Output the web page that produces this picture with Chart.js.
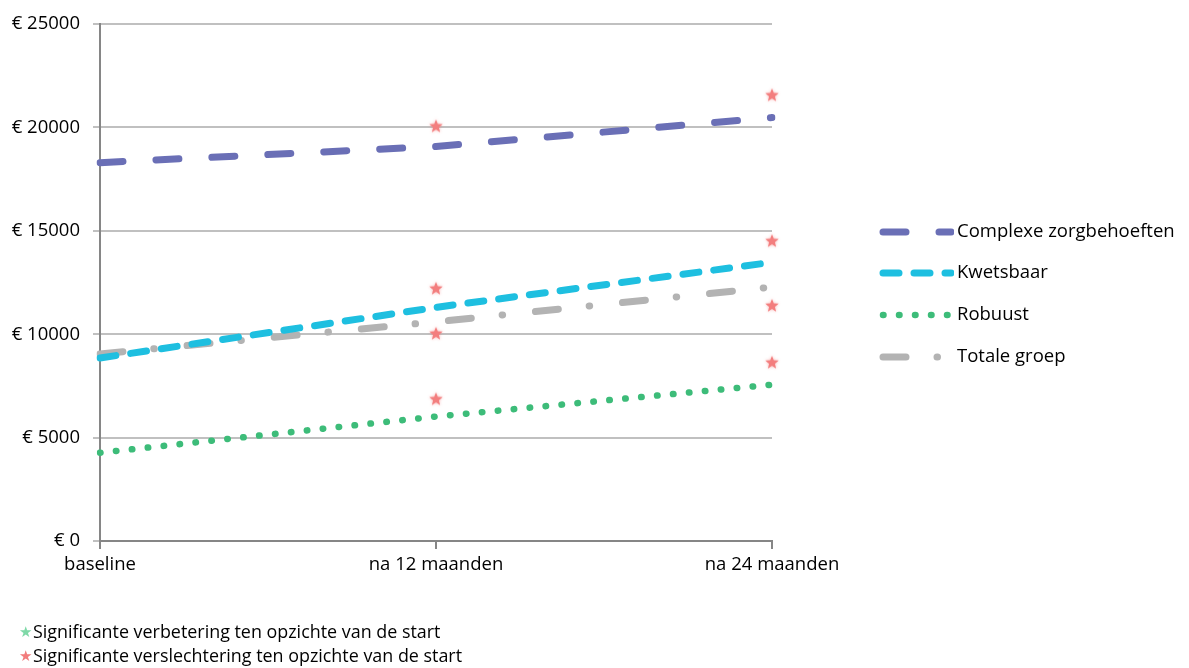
<!DOCTYPE html>
<html>
<head>
<meta charset="utf-8">
<script src="https://cdn.jsdelivr.net/npm/chart.js@4/dist/chart.umd.min.js"></script>
<style>
  body { margin: 0; background: #fff; font-family: "Open Sans", sans-serif; }
  #wrap { position: relative; width: 1189px; height: 668px; }
  .note { position: absolute; left: 19px; font-size: 17.9px; line-height: 24px; color: #000; white-space: nowrap; }
  .note .star { font-size: 15px; margin-right: 1px; vertical-align: 1px; }
</style>
</head>
<body>
<div id="wrap">
  <canvas id="costChart"></canvas>
  <div class="note" style="top:619px"><span class="star" style="color:#7fd9a8">★</span>Significante verbetering ten opzichte van de start</div>
  <div class="note" style="top:643px"><span class="star" style="color:#f27c7c">★</span>Significante verslechtering ten opzichte van de start</div>
</div>
<script>
const categories = ['baseline', 'na 12 maanden', 'na 24 maanden'];
const complexe = [18300, 19080, 20480];
const kwetsbaar = [8850, 11300, 13480];
const robuust = [4270, 6020, 7560];
const totaal = [9050, 10600, 12280];
const yTicks = [0, 5000, 10000, 15000, 20000, 25000];
// rode sterren: significante verslechtering
const sterMoment = ['na 12 maanden', 'na 12 maanden', 'na 12 maanden', 'na 12 maanden',
                    'na 24 maanden', 'na 24 maanden', 'na 24 maanden', 'na 24 maanden'];
const sterWaarde = [20050, 12200, 10020, 6850, 21550, 14500, 11370, 8620];

// filled 5-point star as point image
function makeStar(color) {
    const c = document.createElement('canvas');
    c.width = 20; c.height = 20;
    const g = c.getContext('2d');
    g.shadowColor = 'rgba(240,110,110,0.55)';
    g.shadowBlur = 3;
    g.fillStyle = color;
    g.beginPath();
    for (let i = 0; i < 10; i++) {
        const r = i % 2 === 0 ? 7 : 3;
        const a = -Math.PI / 2 + i * Math.PI / 5;
        g.lineTo(10 + r * Math.cos(a), 10 + r * Math.sin(a));
    }
    g.closePath();
    g.fill();
    return c;
}

const lineBase = { fill: false, pointRadius: 0, tension: 0, borderCapStyle: 'round', borderWidth: 7 };

// legend on the right, drawn with the same line styles
const sideLegend = {
    id: 'sideLegend',
    afterDraw(chart) {
        const ctx = chart.ctx;
        const rows = [232, 273, 315, 357];
        ctx.save();
        chart.data.datasets.slice(0, 4).forEach((ds, i) => {
            const y = rows[i];
            ctx.save();
            ctx.beginPath();
            ctx.rect(874, y - 8, 80, 16);
            ctx.clip();
            ctx.strokeStyle = ds.borderColor;
            ctx.lineWidth = ds.borderWidth;
            ctx.lineCap = 'round';
            ctx.setLineDash(ds.borderDash || []);
            ctx.beginPath();
            ctx.moveTo(883, y);
            ctx.lineTo(951, y);
            ctx.stroke();
            ctx.restore();
            ctx.fillStyle = '#000';
            ctx.font = '18.5px "Open Sans"';
            ctx.textBaseline = 'middle';
            ctx.fillText(ds.label, 957, y);
        });
        ctx.restore();
    }
};

document.addEventListener('DOMContentLoaded', function () {
    const ctx = document.getElementById('costChart');
    new Chart(ctx, {
        type: 'line',
        data: {
            labels: categories,
            datasets: [{
                ...lineBase,
                label: 'Complexe zorgbehoeften',
                data: complexe,
                borderColor: '#6a6fb6',
                borderDash: [23, 33]
            }, {
                ...lineBase,
                label: 'Kwetsbaar',
                data: kwetsbaar,
                borderColor: '#1ebfe0',
                borderDash: [16, 15]
            }, {
                ...lineBase,
                label: 'Robuust',
                data: robuust,
                borderColor: '#3dbc79',
                borderWidth: 6.5,
                borderDash: [0.5, 15.5]
            }, {
                ...lineBase,
                label: 'Totale groep',
                data: totaal,
                borderColor: '#b3b3b3',
                borderDash: [23, 31, 0.5, 33]
            }, {
                label: 'Significantie',
                data: sterMoment.map((m, i) => ({ x: m, y: sterWaarde[i] })),
                showLine: false,
                pointStyle: makeStar('#f37e7e'),
                pointRadius: 10,
                order: -1
            }]
        },
        options: {
            responsive: true,
            maintainAspectRatio: false,
            animation: false,
            layout: { padding: { left: 0, top: 22, right: 417, bottom: 87 } },
            plugins: {
                legend: { display: false },
                tooltip: { enabled: false }
            },
            scales: {
                x: {
                    offset: false,
                    afterFit: s => { s.height = 40; },
                    grid: { drawOnChartArea: false, tickLength: 8, color: '#868686', lineWidth: 2 },
                    border: { color: '#868686', width: 2 },
                    ticks: { color: '#000', padding: 5, font: { family: 'Open Sans', size: 18.5 } }
                },
                y: {
                    min: 0,
                    max: 25000,
                    afterFit: s => { s.width = 100; },
                    afterBuildTicks: s => { s.ticks = yTicks.map(v => ({ value: v })); },
                    grid: { color: '#c0c0c0', lineWidth: 2, tickLength: 7 },
                    border: { color: '#868686', width: 2 },
                    ticks: {
                        color: '#000',
                        padding: 13,
                        font: { family: 'Open Sans', size: 18.5 },
                        callback: v => '€ ' + v
                    }
                }
            }
        },
        plugins: [sideLegend]
    });
});
</script>
</body>
</html>
